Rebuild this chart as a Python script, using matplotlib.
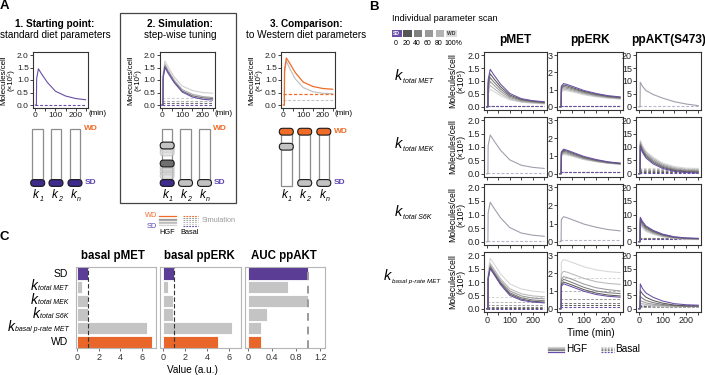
import matplotlib
matplotlib.use("Agg")
import matplotlib.pyplot as plt
from matplotlib.patches import Rectangle, FancyBboxPatch

plt.rcParams['font.family'] = ['Liberation Sans', 'DejaVu Sans']

# ======================= DATA =======================
T_MIN = [0, 5, 6, 15, 30, 60, 100, 150, 200, 250]
TIME_TICKS = [0, 50, 100, 150, 200, 250]
TIME_TICK_LABELS = ["0", "", "100", "", "200", ""]

# Panel A time courses (molecules/cell x10^5)
A1_SD_HGF = [0, 0, 1.05, 1.45, 1.25, 0.90, 0.55, 0.36, 0.26, 0.21]
A1_SD_BASAL = 0.02
A2_SIM_HGF = [
    [0, 0, 1.30, 1.76, 1.53, 1.12, 0.76, 0.58, 0.50, 0.47],
    [0, 0, 1.20, 1.63, 1.40, 1.00, 0.62, 0.43, 0.34, 0.30],
    [0, 0, 1.12, 1.55, 1.33, 0.94, 0.56, 0.37, 0.29, 0.26],
]
A2_SIM_BASAL = [0.27, 0.18, 0.10]
A2_SD_HGF = [0, 0, 1.08, 1.50, 1.28, 0.90, 0.52, 0.32, 0.23, 0.20]
A2_SD_BASAL = 0.02
A3_WD_HGF = [0, 0, 1.40, 1.88, 1.70, 1.30, 0.92, 0.74, 0.66, 0.63]
A3_WD_BASAL = 0.44
A3_SIM_HGF = [0, 0, 1.30, 1.76, 1.50, 1.05, 0.70, 0.53, 0.47, 0.45]
A3_SIM_BASAL = 0.20

# Panel B: parameter scans, levels SD(0%), 20, 40, 60, 80, WD(100%)
SCAN_LEVELS = ["0", "20", "40", "60", "80", "100%"]
ROW_PARAMS = ["total MET", "total MEK", "total S6K", "basal p-rate MET"]
COL_READOUTS = ["pMET", "ppERK", "ppAKT(S473)"]

B_MET_PMET_HGF = [
    [0, 0, 1.05, 1.45, 1.25, 0.88, 0.52, 0.32, 0.24, 0.20],
    [0, 0, 0.92, 1.28, 1.10, 0.78, 0.46, 0.29, 0.22, 0.18],
    [0, 0, 0.81, 1.13, 0.97, 0.69, 0.41, 0.26, 0.20, 0.16],
    [0, 0, 0.70, 0.98, 0.85, 0.60, 0.36, 0.23, 0.18, 0.15],
    [0, 0, 0.60, 0.83, 0.72, 0.51, 0.31, 0.20, 0.16, 0.13],
    [0, 0, 0.49, 0.68, 0.60, 0.43, 0.27, 0.18, 0.14, 0.11],
]
B_MET_PMET_BASAL = [0.02, 0.02, 0.02, 0.02, 0.02, 0.02]
B_MET_PPERK_HGF = [
    [0, 0, 1.20, 1.35, 1.30, 1.15, 0.95, 0.78, 0.65, 0.58],
    [0, 0, 1.13, 1.27, 1.22, 1.08, 0.90, 0.74, 0.62, 0.55],
    [0, 0, 1.06, 1.19, 1.14, 1.02, 0.85, 0.70, 0.59, 0.52],
    [0, 0, 0.99, 1.11, 1.07, 0.96, 0.80, 0.66, 0.56, 0.50],
    [0, 0, 0.92, 1.03, 1.00, 0.90, 0.75, 0.62, 0.53, 0.47],
    [0, 0, 0.85, 0.95, 0.93, 0.84, 0.70, 0.58, 0.50, 0.45],
]
B_MET_PPERK_BASAL = [0.08, 0.08, 0.08, 0.08, 0.08, 0.08]
B_MET_PPAKT_HGF = [[0, 0, 9.5, 8.0, 6.3, 4.8, 3.4, 2.0, 1.1, 0.5]]
B_MET_PPAKT_BASAL = [0.3]

B_MEK_PMET_HGF = [[0, 0, 1.05, 1.45, 1.25, 0.88, 0.52, 0.32, 0.24, 0.20]]
B_MEK_PMET_BASAL = [0.02]
B_MEK_PPERK_HGF = [
    [0, 0, 1.22, 1.38, 1.32, 1.17, 0.97, 0.80, 0.67, 0.60],
    [0, 0, 1.17, 1.32, 1.27, 1.12, 0.93, 0.77, 0.65, 0.58],
    [0, 0, 1.12, 1.26, 1.21, 1.07, 0.89, 0.74, 0.63, 0.56],
    [0, 0, 1.07, 1.20, 1.15, 1.02, 0.85, 0.71, 0.61, 0.55],
    [0, 0, 1.02, 1.14, 1.10, 0.98, 0.82, 0.69, 0.59, 0.54],
    [0, 0, 0.97, 1.08, 1.05, 0.94, 0.79, 0.67, 0.58, 0.53],
]
B_MEK_PPERK_BASAL = [0.10, 0.10, 0.10, 0.10, 0.10, 0.10]
B_MEK_PPAKT_HGF = [
    [0, 0, 10.0, 8.0, 5.9, 3.7, 2.0, 0.9, 0.45, 0.25],
    [0, 0, 10.5, 8.5, 6.4, 4.2, 2.4, 1.2, 0.75, 0.55],
    [0, 0, 11.0, 9.0, 6.9, 4.7, 2.8, 1.5, 1.00, 0.85],
    [0, 0, 11.5, 9.5, 7.4, 5.2, 3.2, 1.9, 1.30, 1.15],
    [0, 0, 12.0, 10.0, 7.9, 5.7, 3.6, 2.3, 1.65, 1.50],
    [0, 0, 12.5, 10.5, 8.4, 6.2, 4.0, 2.7, 2.10, 2.00],
]
B_MEK_PPAKT_BASAL = [0.15, 0.6, 1.0, 1.4, 1.8, 2.2]

B_S6K_PMET_HGF = [[0, 0, 1.05, 1.45, 1.25, 0.88, 0.52, 0.32, 0.24, 0.20]]
B_S6K_PMET_BASAL = [0.02]
B_S6K_PPERK_HGF = [[0, 0, 1.22, 1.38, 1.32, 1.17, 0.97, 0.80, 0.67, 0.60]]
B_S6K_PPERK_BASAL = [0.10]
B_S6K_PPAKT_HGF = [
    [0, 0, 9.0, 7.5, 5.8, 4.2, 2.8, 1.8, 1.4, 1.25],
    [0, 0, 8.4, 7.0, 5.4, 3.9, 2.6, 1.7, 1.3, 1.15],
    [0, 0, 7.8, 6.5, 5.0, 3.6, 2.4, 1.5, 1.2, 1.05],
    [0, 0, 7.2, 6.0, 4.6, 3.3, 2.2, 1.4, 1.1, 0.95],
    [0, 0, 6.6, 5.5, 4.2, 3.0, 2.0, 1.3, 1.0, 0.90],
    [0, 0, 6.0, 5.0, 3.8, 2.7, 1.8, 1.2, 0.9, 0.85],
]
B_S6K_PPAKT_BASAL = [1.10, 1.15, 1.20, 1.20, 1.20, 1.25]

B_BAS_PMET_HGF = [
    [0, 0, 1.10, 1.50, 1.30, 0.90, 0.50, 0.32, 0.25, 0.22],
    [0, 0, 1.12, 1.53, 1.33, 0.94, 0.55, 0.36, 0.28, 0.25],
    [0, 0, 1.15, 1.57, 1.37, 0.98, 0.60, 0.41, 0.33, 0.30],
    [0, 0, 1.18, 1.62, 1.42, 1.04, 0.67, 0.48, 0.40, 0.37],
    [0, 0, 1.22, 1.70, 1.50, 1.12, 0.75, 0.56, 0.48, 0.45],
    [0, 0, 1.40, 1.88, 1.70, 1.30, 0.93, 0.74, 0.66, 0.62],
]
B_BAS_PMET_BASAL = [0.01, 0.04, 0.08, 0.14, 0.26, 0.44]
B_BAS_PPERK_HGF = [
    [0, 0, 1.25, 1.40, 1.33, 1.18, 0.98, 0.80, 0.70, 0.65],
    [0, 0, 1.35, 1.50, 1.43, 1.28, 1.07, 0.88, 0.77, 0.72],
    [0, 0, 1.50, 1.65, 1.58, 1.42, 1.20, 1.00, 0.90, 0.85],
    [0, 0, 1.65, 1.80, 1.75, 1.60, 1.38, 1.18, 1.07, 1.00],
    [0, 0, 1.95, 2.10, 2.05, 1.90, 1.70, 1.52, 1.42, 1.37],
    [0, 0, 2.60, 2.75, 2.70, 2.55, 2.35, 2.18, 2.08, 2.03],
]
B_BAS_PPERK_BASAL = [0.10, 0.20, 0.30, 0.55, 1.00, 1.75]
B_BAS_PPAKT_HGF = [
    [0, 0, 9.3, 7.6, 5.9, 4.3, 2.9, 1.9, 1.5, 1.35],
    [0, 0, 6.8, 5.6, 4.3, 3.1, 2.1, 1.4, 1.1, 1.05],
    [0, 0, 4.6, 3.9, 3.1, 2.3, 1.6, 1.2, 1.0, 0.95],
    [0, 0, 3.1, 2.7, 2.2, 1.7, 1.3, 1.0, 0.9, 0.88],
    [0, 0, 2.1, 1.9, 1.6, 1.3, 1.05, 0.9, 0.85, 0.82],
    [0, 0, 1.5, 1.4, 1.2, 1.0, 0.9, 0.85, 0.80, 0.80],
]
B_BAS_PPAKT_BASAL = [1.3, 1.1, 0.95, 0.8, 0.7, 0.6]

# Panel C: summary bars
C_CATEGORIES = ["SD", "total MET", "total MEK", "total S6K", "basal p-rate MET", "WD"]
C_BASAL_PMET = [1.0, 0.45, 1.0, 1.0, 6.5, 7.0]
C_BASAL_PPERK = [1.0, 0.45, 0.97, 0.97, 6.3, 5.0]
C_AUC_PPAKT = [1.0, 0.67, 1.0, 0.31, 0.22, 0.22]
C_TITLES = ["basal pMET", "basal ppERK", "AUC ppAKT"]
C_REFERENCE = 1.0

# ======================= STYLE / LAYOUT =======================
PURPLE = "#6a4ea6"
ORANGE = "#ef6b27"
LEVEL_COLORS = [PURPLE, "#5a5a5a", "#7b7b7b", "#9a9a9a", "#b8b8b8", "#d6d6d6"]
SWATCH_COLORS = [PURPLE, "#555555", "#808080", "#999999", "#b3b3b3", "#dcdcdc"]
SAME_COLOR = "#a29fad"
BASAL_DASH = (0, (2.6, 1.6))

W, H = 705, 375
fig = plt.figure(figsize=(W / 100, H / 100), dpi=100)


def add_ax(x0, y0, x1, y1):
    return fig.add_axes([x0 / W, 1 - y1 / H, (x1 - x0) / W, (y1 - y0) / H])


ov = fig.add_axes([0, 0, 1, 1], zorder=20)
ov.set_xlim(0, W)
ov.set_ylim(0, H)
ov.axis('off')


def Y(y):
    return H - y


def otext(x, y, s, **kw):
    kw.setdefault('ha', 'center')
    kw.setdefault('va', 'center')
    return ov.text(x, Y(y), s, **kw)


def k_left(x, ybase, sub, ks, ss, dy=0.0):
    t = ov.text(x, Y(ybase), "k", fontsize=ks, style='italic', ha='left', va='baseline')
    ov.annotate(sub, xy=(1, 0), xycoords=t, xytext=(0.3, dy), textcoords='offset points',
                fontsize=ss, style='italic', ha='left', va='baseline')


def basal_line(ax, v, c, lw=0.8):
    ax.plot([T_MIN[0], T_MIN[-1]], [v, v], color=c, lw=lw, ls=BASAL_DASH)


def time_axes(x0, y0, x1, y1, ylim, yticks, yticklabels, xlabels=True, ylabel=None, lab=6.3):
    ax = add_ax(x0, y0, x1, y1)
    ax.set_xlim(-12, 262)
    ax.set_ylim(*ylim)
    ax.set_xticks(TIME_TICKS)
    ax.set_xticklabels(TIME_TICK_LABELS if xlabels else [])
    ax.set_yticks(yticks)
    ax.set_yticklabels(yticklabels)
    ax.tick_params(labelsize=lab, length=2, width=0.6, pad=1, colors='#222')
    for s in ax.spines.values():
        s.set_linewidth(0.8)
        s.set_color('#333')
    if ylabel:
        ax.set_ylabel(ylabel, fontsize=lab - 0.3, labelpad=1.5, linespacing=0.9)
    return ax


YL = "Molecules/cell\n(×10⁵)"
A_YT = [0, 0.5, 1, 1.5, 2]
A_YTL = ["0.0", "0.5", "1.0", "1.5", "2.0"]

# ======================= PANEL A =======================
otext(4.5, 6, "A", fontsize=9.5, fontweight='bold')
A_TITLES = [("1. Starting point:", "standard diet parameters", 55),
            ("2. Simulation:", "step-wise tuning", 180),
            ("3. Comparison:", "to Western diet parameters", 306)]
for t1, t2, cx in A_TITLES:
    otext(cx, 24, t1, fontsize=7.2, fontweight='bold')
    otext(cx, 35.5, t2, fontsize=7.2)

ov.add_patch(Rectangle((120.3, Y(203.3)), 115.7, 190.6, fill=False, ec='#444', lw=0.9))

a1 = time_axes(33, 52, 88, 108, (-0.12, 2.12), A_YT, A_YTL, ylabel=YL, lab=6)
a1.plot(T_MIN, A1_SD_HGF, color=PURPLE, lw=0.8)
basal_line(a1, A1_SD_BASAL, PURPLE)

a2 = time_axes(159.5, 52, 215, 108, (-0.12, 2.12), A_YT, A_YTL, ylabel=YL, lab=6)
for curve, b, c in zip(A2_SIM_HGF, A2_SIM_BASAL, ["#cfcfcf", "#adadad", "#707070"]):
    a2.plot(T_MIN, curve, color=c, lw=0.8)
    basal_line(a2, b, c)
a2.plot(T_MIN, A2_SD_HGF, color=PURPLE, lw=0.8)
basal_line(a2, A2_SD_BASAL, PURPLE)

a3 = time_axes(281, 52, 335, 108, (-0.12, 2.12), A_YT, A_YTL, ylabel=YL, lab=6)
a3.plot(T_MIN, A3_SIM_HGF, color="#bdbdbd", lw=0.8)
basal_line(a3, A3_SIM_BASAL, "#c4c4c4")
a3.plot(T_MIN, A3_WD_HGF, color=ORANGE, lw=0.9)
basal_line(a3, A3_WD_BASAL, ORANGE, lw=0.9)

for x in (97.5, 224, 344):
    otext(x, 113.5, "(min)", fontsize=5.8)


# slider diagrams
def slot(cx, top, bottom):
    ov.add_patch(Rectangle((cx - 5.3, Y(bottom)), 10.6, bottom - top, fc='white',
                           ec='#8c8c8c', lw=0.9, zorder=1))


def pill(cx, cy, fc, alpha=1.0, ec='#1a1a1a'):
    ov.add_patch(FancyBboxPatch((cx - 7, Y(cy) - 3.4), 14, 6.8,
                                boxstyle="round,pad=0,rounding_size=3.4",
                                fc=fc, ec=ec, lw=0.8, alpha=alpha, zorder=3))


DARK_PURPLE = "#3e2b8c"
PILL_GRAY = "#c3c3c3"
SUBS = ["1", "2", "n"]

# A1
A1_CX = [37.7, 56, 75]
for cx in A1_CX:
    slot(cx, 129, 183)
    pill(cx, 183, DARK_PURPLE)
# A2
A2_CX = [167.2, 185.5, 204.5]
for cx in A2_CX:
    slot(cx, 128.5, 183)
for yy in (149, 152.5):
    pill(A2_CX[0], yy, "#d9d9d9", alpha=0.7, ec='#bbbbbb')
for yy in (167.5, 171.5, 175.5):
    pill(A2_CX[0], yy, "#cfcfcf", alpha=0.6, ec='#b5b5b5')
pill(A2_CX[0], 145.5, PILL_GRAY)
pill(A2_CX[0], 163.5, "#6f6f6f")
pill(A2_CX[0], 183, DARK_PURPLE)
pill(A2_CX[1], 183, PILL_GRAY)
pill(A2_CX[2], 183, PILL_GRAY)
# A3
A3_CX = [286.3, 304.7, 323.8]
slot(A3_CX[0], 131.7, 186)
slot(A3_CX[1], 131.7, 183)
slot(A3_CX[2], 131.7, 183)
for cx in A3_CX:
    pill(cx, 131.7, ORANGE)
pill(A3_CX[0], 146.7, PILL_GRAY)
pill(A3_CX[1], 183, PILL_GRAY)
pill(A3_CX[2], 183, PILL_GRAY)

for cxs, wdy, wdx, sdx in ((A1_CX, 129, 83.5, 84.5), (A2_CX, 128.5, 212.5, 213.5),
                          (A3_CX, 131.7, 333.5, 333.5)):
    otext(wdx, wdy, "WD", fontsize=6, fontweight='bold', color=ORANGE, ha='left')
    otext(sdx, 183, "SD", fontsize=6, fontweight='bold', color="#5a44b0", ha='left')
    for cx, s in zip(cxs, SUBS):
        k_left(cx - 4.5, 198, s, 8.5, 5, dy=0.3)

# A legend
otext(157, 215.5, "WD", fontsize=5.3, color=ORANGE, ha='right')
otext(157, 227, "SD", fontsize=5.3, color="#5a44b0", ha='right')
ov.plot([159, 176], [Y(215.5)] * 2, color=ORANGE, lw=0.9)
for yy, c in zip((218.5, 220, 221.5, 223, 224.5), ("#9a9a9a", "#aaaaaa", "#bbbbbb", "#c8c8c8", "#d5d5d5")):
    ov.plot([159, 176], [Y(yy)] * 2, color=c, lw=0.9)
for yy, c in zip((215.5, 218, 220, 222, 224, 226), (ORANGE, "#9a9a9a", "#aaaaaa", "#bbbbbb", "#cccccc", PURPLE)):
    ov.plot([183, 198], [Y(yy)] * 2, color=c, lw=0.8, ls=(0, (1.6, 1.0)))
otext(167, 232, "HGF", fontsize=5.3)
otext(190, 232.5, "Basal", fontsize=5.3)
otext(202, 221, "Simulation", fontsize=5.3, color='#9a9a9a', ha='left')

# ======================= PANEL B =======================
otext(373.5, 6.5, "B", fontsize=9.5, fontweight='bold')
otext(391.5, 18.3, "Individual parameter scan", fontsize=6.6, ha='left')
SW_X = [(391.7, 401.7), (403, 411.7), (414, 422.3), (425, 433.3), (436, 444.3), (446, 456.7)]
for (x0, x1), c in zip(SW_X, SWATCH_COLORS):
    ov.add_patch(Rectangle((x0, Y(36.7)), x1 - x0, 6.7, fc=c, ec='none'))
otext(396.7, 33.4, "SD", fontsize=3.6, fontweight='bold', color='white')
otext(451.3, 33.4, "WD", fontsize=3.6, fontweight='bold', color='#333333')
for lx, s in zip([396, 406.3, 417, 427.5, 438.2, 453], SCAN_LEVELS):
    otext(lx, 43.3, s, fontsize=5)

B_COLS = [(484, 547), (557, 623), (636, 701)]
B_ROWS = [(52, 110), (117, 177), (184, 245), (252, 312)]
B_YLIMS = [(-0.12, 2.12), (-0.18, 3.18), (-1.2, 21.2)]
B_YTICKS = [[0, 0.5, 1, 1.5, 2], [0, 1, 2, 3], [0, 5, 10, 15, 20]]
B_YTL = [["0.0", "0.5", "1.0", "1.5", "2.0"], ["0", "1", "2", "3"], ["0", "5", "10", "15", "20"]]
B_HGF = [[B_MET_PMET_HGF, B_MET_PPERK_HGF, B_MET_PPAKT_HGF],
         [B_MEK_PMET_HGF, B_MEK_PPERK_HGF, B_MEK_PPAKT_HGF],
         [B_S6K_PMET_HGF, B_S6K_PPERK_HGF, B_S6K_PPAKT_HGF],
         [B_BAS_PMET_HGF, B_BAS_PPERK_HGF, B_BAS_PPAKT_HGF]]
B_BASAL = [[B_MET_PMET_BASAL, B_MET_PPERK_BASAL, B_MET_PPAKT_BASAL],
           [B_MEK_PMET_BASAL, B_MEK_PPERK_BASAL, B_MEK_PPAKT_BASAL],
           [B_S6K_PMET_BASAL, B_S6K_PPERK_BASAL, B_S6K_PPAKT_BASAL],
           [B_BAS_PMET_BASAL, B_BAS_PPERK_BASAL, B_BAS_PPAKT_BASAL]]

for j, (name, (x0, x1)) in enumerate(zip(COL_READOUTS, B_COLS)):
    otext((x0 + x1) / 2, 40, name, fontsize=8.6, fontweight='bold')

for i, (y0, y1) in enumerate(B_ROWS):
    for j, (x0, x1) in enumerate(B_COLS):
        ax = time_axes(x0, y0, x1, y1, B_YLIMS[j], B_YTICKS[j], B_YTL[j],
                       xlabels=(i == len(B_ROWS) - 1), ylabel=(YL if j == 0 else None), lab=6.5)
        curves, basal = B_HGF[i][j], B_BASAL[i][j]
        if len(curves) == 1:
            basal_line(ax, basal[0], "#b9b3cc")
            ax.plot(T_MIN, curves[0], color=SAME_COLOR, lw=0.8)
        else:
            for n in reversed(range(len(basal))):
                basal_line(ax, basal[n], LEVEL_COLORS[n], lw=0.75)
            for n in reversed(range(len(curves))):
                ax.plot(T_MIN, curves[n], color=LEVEL_COLORS[n], lw=0.75)

ROW_K_X = [395, 395, 395, 384]
ROW_K_BASE = [80, 148, 216, 280]
ROW_SUB_SIZE = [5.0, 5.0, 5.0, 4.5]
for x, yb, p, ss in zip(ROW_K_X, ROW_K_BASE, ROW_PARAMS, ROW_SUB_SIZE):
    k_left(x, yb, p, 10.5, ss, dy=0.3)

otext(591, 333.3, "Time (min)", fontsize=7.2)
for yy, c in zip((346.7, 347.9, 349.1, 350.3, 351.5), ("#d5d5d5", "#b8b8b8", "#9a9a9a", "#7b7b7b", PURPLE)):
    ov.plot([548.3, 564], [Y(yy)] * 2, color=c, lw=0.9)
    ov.plot([600.7, 614], [Y(yy)] * 2, color=c, lw=0.9, ls=(0, (1.5, 1.0)))
otext(566, 349.3, "HGF", fontsize=7.2, ha='left')
otext(615.5, 349.3, "Basal", fontsize=7.2, ha='left')

# ======================= PANEL C =======================
otext(4, 236.7, "C", fontsize=9.5, fontweight='bold')
C_COLS = [(76, 156), (160, 241), (245, 325)]
C_VALUES = [C_BASAL_PMET, C_BASAL_PPERK, C_AUC_PPAKT]
C_XLIMS = [(-0.12, 7.33), (-0.25, 7.1), (-0.055, 1.28)]
C_XTICKS = [[0, 2, 4, 6], [0, 2, 4, 6], [0, 0.4, 0.8, 1.2]]
C_XTL = [["0", "2", "4", "6"], ["0", "2", "4", "6"], ["0", "0.4", "0.8", "1.2"]]
C_TITLE_X = [112.5, 199, 284]
bar_colors = ["#5c3d96" if c == "SD" else ("#e8662a" if c == "WD" else "#c4c4c4")
              for c in C_CATEGORIES]
ypos = list(range(len(C_CATEGORIES)))
for j, ((x0, x1), vals) in enumerate(zip(C_COLS, C_VALUES)):
    ax = add_ax(x0, 267, x1, 348)
    ax.barh(ypos, vals, height=0.92, color=bar_colors, edgecolor='white', linewidth=0.6)
    if j < 2:
        ax.axvline(C_REFERENCE, color='#333333', lw=0.8, ls=(0, (4, 2)))
    else:
        ax.axvline(C_REFERENCE, color='#9a9a9a', lw=1.4, ls=(0, (4, 3)))
    ax.set_xlim(*C_XLIMS[j])
    ax.set_ylim(len(C_CATEGORIES) - 0.55, -0.48)
    ax.set_yticks([])
    ax.set_xticks(C_XTICKS[j])
    ax.set_xticklabels(C_XTL[j])
    ax.tick_params(axis='x', labelsize=6.5, length=2, width=0.6, pad=1.5, colors='#555555',
                   labelcolor='#333333')
    for s in ax.spines.values():
        s.set_linewidth(0.8)
        s.set_color('#b5b5b5')
    otext(C_TITLE_X[j], 256, C_TITLES[j], fontsize=8.3, fontweight='bold')
    if j == 0:
        tr = ax.get_yaxis_transform()
        for i, cat in enumerate(C_CATEGORIES):
            if cat in ("SD", "WD"):
                ax.text(-0.095, i, cat, transform=tr, ha='right', va='center', fontsize=7.5)
            else:
                sub = ax.text(-0.095, i + 0.22, cat, transform=tr, ha='right', va='baseline',
                              fontsize=5.0, style='italic')
                ax.annotate("k", xy=(0, 0), xycoords=sub, xytext=(-0.2, 1.4),
                            textcoords='offset points', ha='right', va='baseline',
                            fontsize=10, style='italic')

otext(192.5, 370, "Value (a.u.)", fontsize=7.2)

fig.savefig("out.png", dpi=100)
